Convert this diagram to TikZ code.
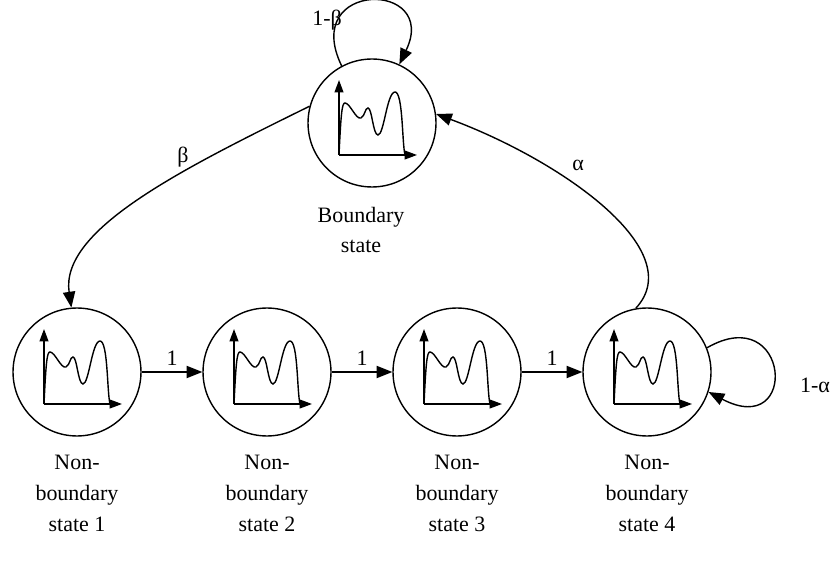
\documentclass[tikz,border=0pt]{standalone}
\usepackage{fontspec}
\setmainfont{Liberation Serif}
\usetikzlibrary{positioning,arrows.meta}
\begin{document}
\begin{tikzpicture}[x=0.02cm,y=-0.02cm,
  statenode/.style={draw,circle,thick,minimum size=2.56cm,inner sep=0pt},
  lbl/.style={align=center,font=\fontsize{12.5}{17.6}\selectfont},
  link/.style={thick,-{Triangle[length=9pt,width=7pt]}},
  icon/.pic={
    \draw[thick,-{Triangle[length=7pt,width=5pt]}] (-33,32) -- (-33,-43);
    \draw[thick,-{Triangle[length=7pt,width=5pt]}] (-33,32) -- (45,32);
    \draw[thick] (-33,32) .. controls (-31,-10) and (-30,-20) .. (-27,-20)
      .. controls (-22,-20) and (-16,-3) .. (-11,-5)
      .. controls (-7,-7) and (-7,-15) .. (-4,-15)
      .. controls (0,-15) and (1,12) .. (6,12)
      .. controls (12,12) and (15,-31) .. (23,-31)
      .. controls (31,-31) and (30,20) .. (33,32);
  },
  ]
  \useasboundingbox (0,0) rectangle (838,567);
  %Nodes
  \node[statenode] (b) at (372,123) {};
  \node[statenode] (s1) at (77,372) {};
  \node[statenode] (s2) at (267,372) {};
  \node[statenode] (s3) at (457,372) {};
  \node[statenode] (s4) at (647,372) {};
  \foreach \n in {b,s1,s2,s3,s4} \pic at (\n) {icon};
  \node[lbl] (lb) at (361,230) {Boundary\\state};
  \foreach \n/\k in {s1/1,s2/2,s3/3,s4/4}
    \node[lbl,below=0.24cm of \n] {Non-\\boundary\\state \k};
  %Lines
  \draw[link] (s1) -- node[above,lbl]{1} (s2);
  \draw[link] (s2) -- node[above,lbl]{1} (s3);
  \draw[link] (s3) -- node[above,lbl]{1} (s4);
  \draw[link] (b.165) .. controls (180,170) and (60,230) .. (s1.95);
  \draw[link] (s4.100) .. controls (690,250) and (560,160) .. (b.8);
  \draw[link] (b.118) .. controls (300,-20) and (440,-20) .. (b.65);
  \draw[link] (s4.22) .. controls (790,300) and (800,440) .. (s4.-18);
  \node[lbl] at (183,157) {β};
  \node[lbl] at (578,165) {α};
  \node[lbl] at (327,20) {1-β};
  \node[lbl] at (815,385) {1-α};
\end{tikzpicture}
\end{document}
